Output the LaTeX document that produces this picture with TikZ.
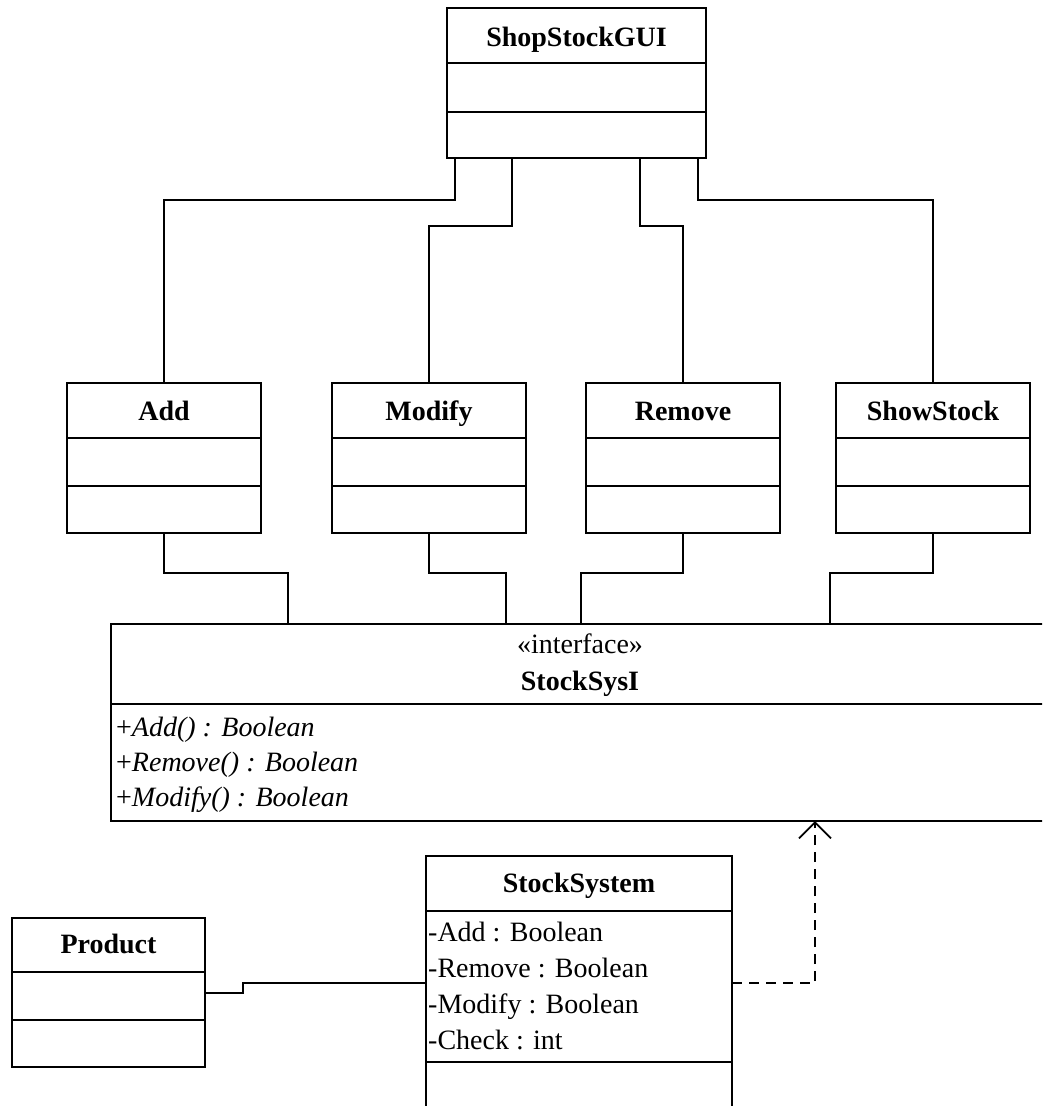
\documentclass[tikz,border=0pt]{standalone}
\usepackage{fontspec}
\setmainfont{Liberation Serif}
\usetikzlibrary{calc,arrows.meta}
\newcommand\divline[2]{\draw[boxline] ($(#1.north west)+(0,#2)$) -- ($(#1.north east)+(0,#2)$);}
\tikzset{
  boxline/.style={line width=2.6pt},
  classbox/.style={draw, boxline, rectangle, anchor=north west, inner sep=0pt, outer sep=0pt},
  conn/.style={line width=1.8pt},
  titletext/.style={font=\fontsize{28}{34}\selectfont\bfseries, anchor=base, inner sep=0pt},
  attrtext/.style={font=\fontsize{28}{34}\selectfont, anchor=base west, inner sep=0pt},
  methtext/.style={font=\fontsize{28}{34}\selectfont, anchor=base west, inner sep=0pt},
}
\begin{document}
\begin{tikzpicture}[x=1pt,y=-1pt]
\useasboundingbox (0,0) rectangle (1042,1106);
\clip (0,0) rectangle (1042,1106);
\fill[white] (0,0) rectangle (1042,1106);

% ShopStockGUI
\node[classbox, minimum width=259pt, minimum height=150pt] (gui) at (447,8) {};
\node[titletext] (guiT) at ($(gui.north)+(0,38)$) {ShopStockGUI};
\divline{gui}{55}
\divline{gui}{104}

% Row of classes
\node[classbox, minimum width=194pt, minimum height=150pt] (add) at (67,383) {};
\node[titletext] (addT) at ($(add.north)+(0,37)$) {Add};
\divline{add}{55}\divline{add}{103}

\node[classbox, minimum width=194pt, minimum height=150pt] (mod) at (332,383) {};
\node[titletext] (modT) at ($(mod.north)+(0,37)$) {Modify};
\divline{mod}{55}\divline{mod}{103}

\node[classbox, minimum width=194pt, minimum height=150pt] (rem) at (586,383) {};
\node[titletext] (remT) at ($(rem.north)+(0,37)$) {Remove};
\divline{rem}{55}\divline{rem}{103}

\node[classbox, minimum width=194pt, minimum height=150pt] (show) at (836,383) {};
\node[titletext] (showT) at ($(show.north)+(0,37)$) {ShowStock};
\divline{show}{55}\divline{show}{103}

% Interface
\node[classbox, minimum width=939pt, minimum height=197pt] (iface) at (111,624) {};
\node[font=\fontsize{28}{34}\selectfont, anchor=base, inner sep=0pt] (ifS) at (580,653) {«interface»};
\node[titletext] (ifT) at (580,690) {StockSysI};
\divline{iface}{80}
\node[methtext] (m1) at (116,736) {+\textit{Add() : Boolean}};
\node[methtext] (m2) at (116,771) {+\textit{Remove() : Boolean}};
\node[methtext] (m3) at (116,806) {+\textit{Modify() : Boolean}};

% StockSystem
\node[classbox, minimum width=306pt, minimum height=270pt] (sys) at (426,856) {};
\node[titletext] (sysT) at ($(sys.north)+(0,36)$) {StockSystem};
\divline{sys}{55}\divline{sys}{206}
\node[attrtext] (a1) at (428,941) {-Add : Boolean};
\node[attrtext] (a2) at (428,977) {-Remove : Boolean};
\node[attrtext] (a3) at (428,1013) {-Modify : Boolean};
\node[attrtext] (a4) at (428,1049) {-Check : int};

% Product
\node[classbox, minimum width=193pt, minimum height=149pt] (prod) at (12,918) {};
\node[titletext] (prodT) at ($(prod.north)+(0,35)$) {Product};
\divline{prod}{54}\divline{prod}{102}

% Connectors GUI -> row
\draw[conn] ($(gui.south west)+(8,0)$) -- ++(0,42) -| (add.north);
\draw[conn] ($(gui.south west)+(65,0)$) -- ++(0,68) -| (mod.north);
\draw[conn] ($(gui.south west)+(193,0)$) -- ++(0,68) -| (rem.north);
\draw[conn] ($(gui.south west)+(251,0)$) -- ++(0,42) -| (show.north);

% Connectors row -> interface
\draw[conn] (add.south) -- ++(0,40) -| ($(iface.north west)+(177,0)$);
\draw[conn] (mod.south) -- ++(0,40) -| ($(iface.north west)+(395,0)$);
\draw[conn] (rem.south) -- ++(0,40) -| ($(iface.north west)+(470,0)$);
\draw[conn] (show.south) -- ++(0,40) -| ($(iface.north west)+(719,0)$);

% Product -- StockSystem
\draw[conn] ($(prod.north east)+(0,75)$) -- ++(38,0) |- ($(sys.north west)+(0,127)$);

% Realization
\coordinate (ifbot) at ($(iface.south west)+(704,0)$);
\draw[conn, dash pattern=on 10pt off 7pt, -{Straight Barb[length=16pt,width=32pt,line width=1.8pt]}]
  ($(sys.north east)+(0,127)$) -| (ifbot);
\end{tikzpicture}
\end{document}
